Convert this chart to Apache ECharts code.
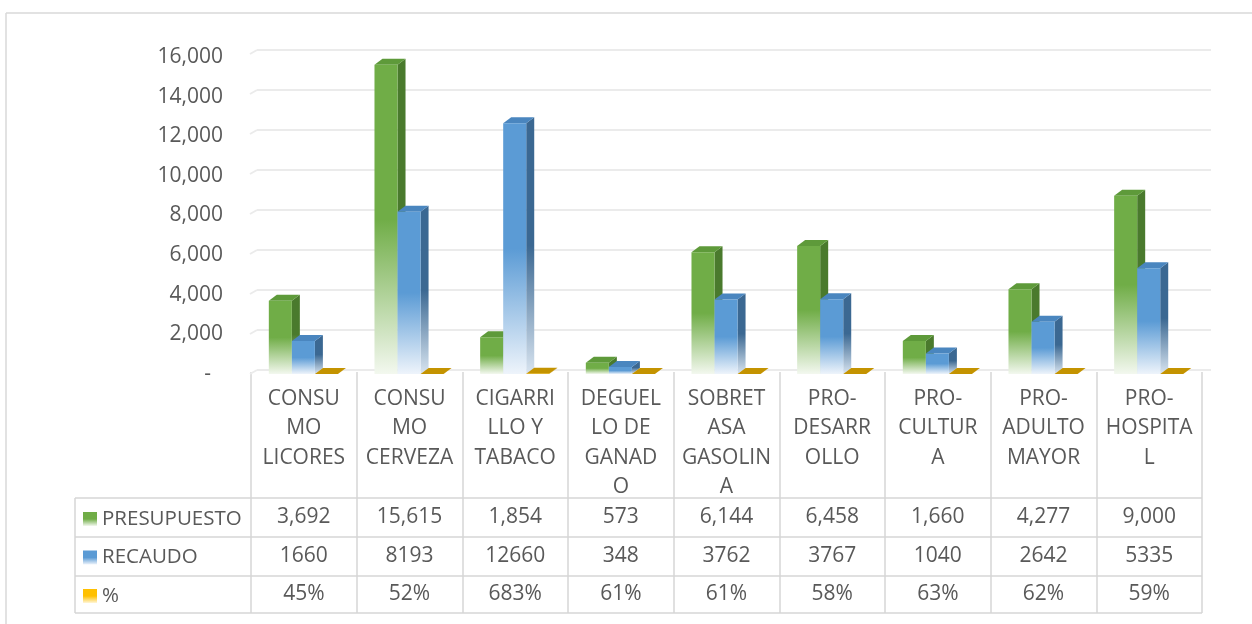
<!DOCTYPE html>
<html>
<head>
<meta charset="utf-8">
<script src="https://cdn.jsdelivr.net/npm/echarts@6/dist/echarts.min.js"></script>
<style>
html,body{margin:0;padding:0;background:#fff;}
#c{width:1252px;height:624px;}
</style>
</head>
<body>
<div id="c"></div>
<script>
// ---- data ----
const categories = [
  'CONSU\nMO\nLICORES',
  'CONSU\nMO\nCERVEZA',
  'CIGARRI\nLLO Y\nTABACO',
  'DEGUEL\nLO DE\nGANAD\nO',
  'SOBRET\nASA\nGASOLIN\nA',
  'PRO-\nDESARR\nOLLO',
  'PRO-\nCULTUR\nA',
  'PRO-\nADULTO\nMAYOR',
  'PRO-\nHOSPITA\nL'
];
const presupuesto = [3692, 15615, 1854, 573, 6144, 6458, 1660, 4277, 9000];
const recaudo = [1660, 8193, 12660, 348, 3762, 3767, 1040, 2642, 5335];
const pct = [45, 52, 683, 61, 61, 58, 63, 62, 59];
const seriesNames = ['PRESUPUESTO', 'RECAUDO', '%'];
const yMin = 0, yMax = 16000, yStep = 2000;
const yTicks = [0, 2000, 4000, 6000, 8000, 10000, 12000, 14000, 16000];

// ---- style ----
const FONT = 'Open Sans';
const TXT = '#595959';
const LINE = '#D6D6D6';
const G = echarts.graphic;
const palette = [
  {front: '#70AD47', top: '#5E9A3A', side: '#4A7A2D', fade: '#F3F8EF', sideFade: '#DDE8D4'},
  {front: '#5B9BD5', top: '#4A86BF', side: '#3B6892', fade: '#EEF4FB', sideFade: '#D8E4F0'},
  {front: '#FFC000', top: '#C49300', side: '#A87E00', fade: '#FFF6D9', sideFade: '#F2E3B0'}
];
const offsets = [-1.02, -0.02, 0.98];

function grad(c, f) {
  return new G.LinearGradient(0, 0, 0, 1, [
    {offset: 0, color: c}, {offset: 0.5, color: c}, {offset: 1, color: f}
  ]);
}

function makeRender(si) {
  const p = palette[si];
  return function (params, api) {
    const ci = api.value(0), v = api.value(1);
    const base = api.coord([ci, 0]);
    const top = api.coord([ci, v]);
    const band = api.size([1, 0])[0];
    const w = band * 0.218;
    const cx = base[0] + offsets[si] * w;
    const x0 = cx - w / 2, x1 = cx + w / 2;
    const yb = base[1], yt = top[1];
    const dx = 8, dy = 6;
    const h = Math.max(yb - yt, 0.01);
    return {
      type: 'group',
      children: [
        {type: 'polygon', shape: {points: [[x1, yt], [x1 + dx, yt - dy], [x1 + dx, yb - dy], [x1, yb]]},
         style: {fill: grad(p.side, p.sideFade)}},
        {type: 'polygon', shape: {points: [[x0, yt], [x1, yt], [x1 + dx, yt - dy], [x0 + dx, yt - dy]]},
         style: {fill: p.top}},
        {type: 'rect', shape: {x: x0, y: yt, width: w, height: h},
         style: {fill: grad(p.front, p.fade)}}
      ]
    };
  };
}

const seriesValues = [presupuesto, recaudo, pct.map(v => v / 100)];

const series = seriesValues.map((vals, si) => ({
  name: seriesNames[si],
  type: 'custom',
  xAxisIndex: 0,
  yAxisIndex: 0,
  renderItem: makeRender(si),
  encode: {x: 0, y: 1},
  itemStyle: {color: grad(palette[si].front, palette[si].fade)},
  data: vals.map((v, i) => [i, v]),
  silent: true
}));

const rowFmt = [
  (i) => presupuesto[i].toLocaleString('en-US'),
  (i) => String(recaudo[i]),
  (i) => pct[i] + '%'
];
const rowOffsets = [143.5, 182.5, 220.5];

const tableAxes = rowFmt.map((fmt, r) => ({
  type: 'category',
  gridIndex: 0,
  position: 'bottom',
  offset: rowOffsets[r],
  data: categories,
  axisLine: {show: false},
  axisTick: {show: false},
  splitLine: {show: false},
  axisLabel: {
    interval: 0,
    margin: 0,
    verticalAlign: 'middle',
    fontFamily: FONT, fontSize: 21, color: TXT,
    formatter: (val, idx) => fmt(idx)
  }
}));

const option = {
  animation: false,
  backgroundColor: '#fff',
  legend: {
    orient: 'vertical',
    left: 78,
    top: 502,
    padding: 5,
    itemWidth: 14,
    itemHeight: 14,
    itemGap: 14.5,
    icon: 'rect',
    selectedMode: false,
    textStyle: {fontFamily: FONT, fontSize: 20.5, color: TXT, lineHeight: 24},
    data: seriesNames
  },
  grid: [
    {left: 251, right: 50, top: 57, bottom: 250},
    {left: 257, right: 41, top: 50, bottom: 254},
    {left: 251, right: 50, top: 372, bottom: 11}
  ],
  xAxis: [
    {
      type: 'category', gridIndex: 0, data: categories,
      axisLine: {show: false}, axisTick: {show: false}, splitLine: {show: false},
      axisLabel: {interval: 0, margin: 10, verticalAlign: 'top', lineHeight: 29.5,
        fontFamily: FONT, fontSize: 21, color: TXT}
    },
    {type: 'category', gridIndex: 1, data: categories, show: false},
    {
      type: 'category', gridIndex: 2, data: categories,
      axisLine: {show: false}, axisTick: {show: false}, axisLabel: {show: false},
      splitLine: {show: true, interval: 0, lineStyle: {color: LINE, width: 1.5}}
    }
  ].concat(tableAxes),
  yAxis: [
    {
      type: 'value', gridIndex: 0, min: yMin, max: yMax, interval: yStep,
      axisLine: {show: false}, axisTick: {show: false}, splitLine: {show: false},
      axisLabel: {
        margin: 28, fontFamily: FONT, fontSize: 21, color: TXT,
        formatter: v => v === 0 ? '{d|-}' : v.toLocaleString('en-US'),
        rich: {d: {fontFamily: FONT, fontSize: 21, color: TXT, padding: [0, 12, 0, 0]}}
      }
    },
    {
      type: 'value', gridIndex: 1, min: yMin, max: yMax, interval: yStep,
      axisLine: {show: false}, axisTick: {show: false}, axisLabel: {show: false},
      splitLine: {show: true, lineStyle: {color: '#EBEBEB', width: 2}}
    },
    {type: 'value', gridIndex: 2, show: false, min: 0, max: 1}
  ],
  series: series
};

const chart = echarts.init(document.getElementById('c'), null, {renderer: 'canvas'});
chart.setOption(option);

// table horizontal lines, legend column border, frame, gridline slants
const c0 = chart.convertToPixel({xAxisIndex: 0}, 0);
const c1 = chart.convertToPixel({xAxisIndex: 0}, 1);
const band = c1 - c0;
const xRight = chart.convertToPixel({xAxisIndex: 0}, categories.length - 1) + band / 2;
const tableLeft = 75;
const rowYs = [498, 537, 576, 613];
const graphics = [];
rowYs.forEach(y => graphics.push({
  type: 'line', shape: {x1: tableLeft, y1: y, x2: xRight, y2: y},
  style: {stroke: LINE, lineWidth: 1.5}, silent: true
}));
graphics.push({type: 'line', shape: {x1: tableLeft, y1: rowYs[0], x2: tableLeft, y2: rowYs[3]},
  style: {stroke: LINE, lineWidth: 1.5}, silent: true});
// outer frame (top and left edges visible)
graphics.push({type: 'line', shape: {x1: 6, y1: 13, x2: 1252, y2: 13}, style: {stroke: '#D9D9D9', lineWidth: 1.5}, silent: true});
graphics.push({type: 'line', shape: {x1: 6, y1: 13, x2: 6, y2: 624}, style: {stroke: '#D9D9D9', lineWidth: 1.5}, silent: true});
// side wall slants of the gridlines
yTicks.forEach(t => {
  const yb = chart.convertToPixel({yAxisIndex: 1}, t);
  graphics.push({type: 'line', shape: {x1: 250, y1: yb + 4, x2: 257, y2: yb},
    style: {stroke: '#EBEBEB', lineWidth: 2}, silent: true});
});
chart.setOption({graphic: graphics});
</script>
</body>
</html>
